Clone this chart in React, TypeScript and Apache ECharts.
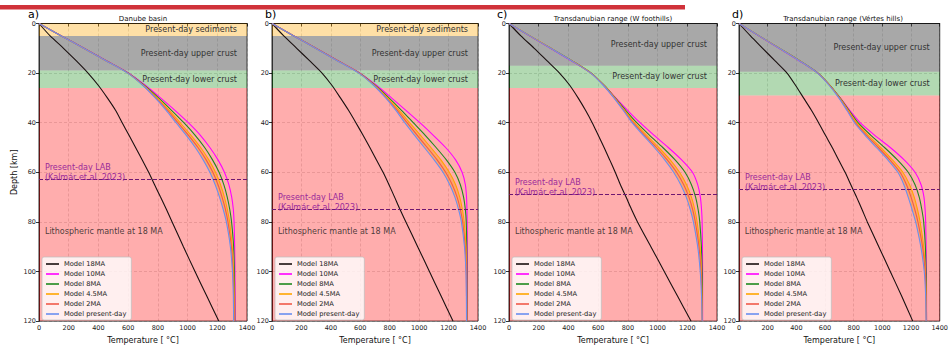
import React, { useEffect, useRef } from "react";
import * as echarts from "echarts";

// ---------- data ----------
const depthKm = [0, 5, 10, 15, 20, 25, 30, 35, 40, 45, 50, 55, 60, 65, 70, 75, 80, 90, 100, 110, 120];

const modelNames = ["Model 18MA", "Model 10MA", "Model 8MA", "Model 4.5MA", "Model 2MA", "Model present-day"];
const modelColors = ["#1a1010", "#ff00ff", "#1f8a1f", "#ffa500", "#f05a4a", "#6a8ff0"];

const tempTicks = [0, 200, 400, 600, 800, 1000, 1200, 1400];
const depthTicks = [0, 20, 40, 60, 80, 100, 120];

// Panel a) Danube basin
const aM18 = [0, 75, 165, 250, 330, 400, 460, 515, 560, 605, 650, 695, 738, 778, 818, 858, 896, 972, 1050, 1130, 1210];
const aM10 = [0, 152, 304, 455, 606, 718, 818, 915, 1005, 1085, 1150, 1205, 1248, 1278, 1297, 1308, 1313, 1317, 1319, 1320, 1320];
const aM8 = [0, 151, 302, 452, 602, 710, 805, 892, 975, 1050, 1115, 1168, 1212, 1244, 1267, 1284, 1296, 1310, 1315, 1317, 1318];
const aM45 = [0, 150, 300, 450, 599, 705, 795, 877, 950, 1022, 1088, 1143, 1188, 1222, 1248, 1268, 1283, 1301, 1310, 1314, 1315];
const aM2 = [0, 150, 300, 450, 598, 702, 788, 866, 935, 1005, 1070, 1125, 1170, 1205, 1232, 1255, 1272, 1295, 1306, 1311, 1313];
const aPD = [0, 150, 300, 450, 597, 700, 782, 856, 922, 990, 1052, 1105, 1150, 1186, 1215, 1240, 1261, 1288, 1302, 1308, 1310];

// Panel b)
const bM18 = [0, 80, 168, 255, 340, 408, 465, 520, 570, 618, 665, 710, 755, 795, 833, 870, 910, 990, 1070, 1150, 1230];
const bM10 = [0, 150, 300, 450, 600, 712, 812, 910, 1005, 1095, 1180, 1248, 1292, 1314, 1322, 1325, 1326, 1327, 1327, 1327, 1327];
const bM8 = [0, 149, 298, 447, 596, 703, 795, 880, 960, 1040, 1115, 1185, 1243, 1280, 1302, 1314, 1320, 1324, 1325, 1325, 1325];
const bM45 = [0, 149, 297, 446, 594, 698, 785, 864, 935, 1008, 1080, 1148, 1205, 1248, 1276, 1294, 1306, 1318, 1322, 1323, 1324];
const bM2 = [0, 148, 296, 444, 592, 695, 778, 852, 918, 986, 1055, 1122, 1180, 1225, 1258, 1280, 1296, 1313, 1320, 1322, 1323];
const bPD = [0, 148, 295, 443, 590, 692, 772, 842, 902, 968, 1035, 1102, 1162, 1208, 1243, 1268, 1287, 1308, 1318, 1321, 1322];

// Panel c) Transdanubian range (W foothills)
const cM18 = [0, 80, 170, 255, 340, 410, 465, 515, 560, 600, 640, 678, 715, 750, 788, 825, 865, 955, 1045, 1135, 1225];
const cM10 = [0, 138, 278, 418, 552, 640, 718, 798, 882, 975, 1072, 1162, 1235, 1270, 1288, 1296, 1300, 1302, 1303, 1303, 1303];
const cM8 = [0, 141, 283, 424, 554, 642, 715, 785, 860, 945, 1035, 1118, 1185, 1228, 1256, 1273, 1284, 1295, 1300, 1302, 1302];
const cM45 = [0, 141, 282, 422, 552, 640, 712, 778, 845, 925, 1008, 1085, 1148, 1195, 1228, 1250, 1266, 1286, 1295, 1299, 1301];
const cM2 = [0, 140, 281, 421, 551, 638, 709, 773, 836, 912, 992, 1065, 1128, 1176, 1211, 1236, 1254, 1279, 1292, 1298, 1300];
const cPD = [0, 140, 280, 420, 550, 636, 706, 768, 828, 902, 978, 1048, 1108, 1156, 1193, 1220, 1241, 1270, 1287, 1296, 1300];

// Panel d) Transdanubian range (Vértes hills)
const dM18 = [0, 80, 165, 250, 335, 395, 450, 505, 555, 602, 650, 695, 740, 780, 820, 858, 895, 975, 1055, 1135, 1212];
const dM10 = [0, 138, 278, 418, 550, 635, 706, 772, 845, 945, 1055, 1152, 1228, 1270, 1290, 1298, 1302, 1305, 1307, 1308, 1308];
const dM8 = [0, 141, 283, 424, 552, 636, 705, 767, 830, 918, 1015, 1105, 1180, 1228, 1257, 1275, 1288, 1300, 1305, 1307, 1308];
const dM45 = [0, 141, 282, 422, 550, 634, 702, 762, 820, 900, 988, 1070, 1143, 1190, 1222, 1245, 1263, 1288, 1300, 1305, 1307];
const dM2 = [0, 140, 281, 421, 549, 632, 699, 757, 812, 888, 972, 1052, 1123, 1168, 1200, 1226, 1248, 1280, 1298, 1304, 1306];
const dPD = [0, 140, 280, 420, 548, 630, 696, 752, 805, 878, 958, 1038, 1108, 1150, 1180, 1207, 1232, 1268, 1292, 1302, 1305];

// layer boundaries (km) per panel a,b,c,d
const sedimentBase = [5, 5, null, null];
const upperCrustBase = [19, 19, 17, 19.5];
const lowerCrustBase = [26, 26, 26, 29];
const labDepth = [63, 75, 69, 67];
const maxDepth = 120;

const panelLetters = ["a)", "b)", "c)", "d)"];
const panelTitles = ["Danube basin", "", "Transdanubian range (W foothills)", "Transdanubian range (Vértes hills)"];
const panelModels = [
  [aM18, aM10, aM8, aM45, aM2, aPD],
  [bM18, bM10, bM8, bM45, bM2, bPD],
  [cM18, cM10, cM8, cM45, cM2, cPD],
  [dM18, dM10, dM8, dM45, dM2, dPD],
];

// ---------- layout ----------
const gridLefts = [39, 272, 509, 739];
const gridWidths = [208, 206, 208, 208];
const gridTop = 23.5;
const gridHeight = 300;
const FONT = "DejaVu Sans";

function buildOption() {
  const grid: any[] = [];
  const xAxis: any[] = [];
  const yAxis: any[] = [];
  const series: any[] = [];
  const legend: any[] = [];
  const graphic: any[] = [];

  graphic.push({
    type: "rect",
    shape: { x: 0, y: 5, width: 685, height: 4.5 },
    style: { fill: "#d0323a" },
    silent: true,
  });

  const plain = (v: number) => String(v);

  for (let i = 0; i < 4; i++) {
    const left = gridLefts[i];
    const width = gridWidths[i];
    grid.push({
      left,
      top: gridTop,
      width,
      height: gridHeight,
      show: true,
      borderColor: "#000",
      borderWidth: 0.8,
      backgroundColor: "#fff",
    });
    xAxis.push({
      type: "value",
      gridIndex: i,
      min: tempTicks[0],
      max: tempTicks[tempTicks.length - 1],
      interval: 200,
      axisLine: { show: true, lineStyle: { color: "#000", width: 0.8 } },
      axisTick: { show: true, length: 3, lineStyle: { color: "#000", width: 0.8 } },
      axisLabel: { fontSize: 6.5, color: "#222", margin: 3, fontFamily: FONT, showMinLabel: true, showMaxLabel: true, formatter: plain },
      splitLine: { show: true, lineStyle: { color: "rgba(0,0,0,0.16)", type: [3, 2], width: 0.8 } },
      name: "Temperature [ °C]",
      nameLocation: "middle",
      nameGap: 14,
      nameTextStyle: { fontSize: 8, color: "#111", fontFamily: FONT },
    });
    yAxis.push({
      type: "value",
      gridIndex: i,
      inverse: true,
      min: depthTicks[0],
      max: depthTicks[depthTicks.length - 1],
      interval: 20,
      axisLine: { show: true, lineStyle: { color: "#000", width: 0.8 } },
      axisTick: { show: true, length: 3, lineStyle: { color: "#000", width: 0.8 } },
      axisLabel: { fontSize: 6.5, color: "#222", margin: 3, fontFamily: FONT, showMinLabel: true, showMaxLabel: true, formatter: plain },
      splitLine: { show: true, lineStyle: { color: "rgba(0,0,0,0.16)", type: [3, 2], width: 0.8 } },
      name: i === 0 ? "Depth [km]" : "",
      nameLocation: "middle",
      nameGap: 21,
      nameRotate: 90,
      nameTextStyle: { fontSize: 8, color: "#111", fontFamily: FONT },
    });

    // layer bands
    const bands: any[] = [];
    const bandLabel = (txt: string) => ({
      show: true,
      position: "insideRight",
      distance: 10,
      formatter: txt,
      fontSize: 8,
      color: "#333",
      fontFamily: FONT,
    });
    let top = 0;
    if (sedimentBase[i] != null) {
      bands.push([
        { coord: [0, 0], itemStyle: { color: "rgba(255,165,0,0.35)" }, label: bandLabel("Present-day sediments") },
        { coord: [1400, sedimentBase[i]] },
      ]);
      top = sedimentBase[i] as number;
    }
    bands.push([
      { coord: [0, top], itemStyle: { color: "rgba(70,70,70,0.47)" }, label: bandLabel("Present-day upper crust") },
      { coord: [1400, upperCrustBase[i]] },
    ]);
    bands.push([
      { coord: [0, upperCrustBase[i]], itemStyle: { color: "rgba(0,128,0,0.3)" }, label: bandLabel("Present-day lower crust") },
      { coord: [1400, lowerCrustBase[i]] },
    ]);
    bands.push([
      { coord: [0, lowerCrustBase[i]], itemStyle: { color: "rgba(255,0,0,0.32)" }, label: { show: false } },
      { coord: [1400, maxDepth] },
    ]);
    series.push({
      type: "line",
      name: "bands" + i,
      xAxisIndex: i,
      yAxisIndex: i,
      data: [[0, 0]],
      symbol: "none",
      lineStyle: { opacity: 0 },
      silent: true,
      z: 1,
      markArea: { silent: true, data: bands },
    });

    const models = panelModels[i];
    const pd = models[5];
    const o45 = models[3];
    // orange fill between present-day and 4.5 MA geotherms
    series.push({
      type: "custom",
      name: "fill" + i,
      xAxisIndex: i,
      yAxisIndex: i,
      data: [[0, 0]],
      silent: true,
      z: 2,
      renderItem: (_p: any, api: any) => {
        const pts: number[][] = [];
        for (let k = 0; k < depthKm.length; k++) pts.push(api.coord([pd[k], depthKm[k]]));
        for (let k = depthKm.length - 1; k >= 0; k--) pts.push(api.coord([o45[k], depthKm[k]]));
        return { type: "polygon", shape: { points: pts }, style: { fill: "rgba(255,160,40,0.5)" } };
      },
    });

    for (let m = 0; m < modelNames.length; m++) {
      const vals = models[m];
      series.push({
        type: "line",
        name: modelNames[m],
        xAxisIndex: i,
        yAxisIndex: i,
        data: depthKm.map((d, k) => [vals[k], d]),
        symbol: "none",
        showSymbol: false,
        smooth: 0.25,
        lineStyle: { color: modelColors[m], width: 1.1 },
        itemStyle: { color: modelColors[m] },
        z: 3,
      });
    }

    // LAB
    series.push({
      type: "line",
      name: "lab" + i,
      xAxisIndex: i,
      yAxisIndex: i,
      data: [],
      z: 5,
      markLine: {
        silent: true,
        symbol: ["none", "none"],
        lineStyle: { color: "#6e1670", type: [4, 2], width: 1.2 },
        label: {
          show: true,
          position: "insideStartTop",
          distance: [6, -3],
          formatter: "Present-day LAB\n(Kalmár et al. 2023)",
          color: "#9a2a9a",
          fontSize: 8,
          lineHeight: 10,
          fontFamily: FONT,
        },
        data: [{ yAxis: labDepth[i] }],
      },
    });

    // mantle label
    series.push({
      type: "scatter",
      name: "mantle" + i,
      xAxisIndex: i,
      yAxisIndex: i,
      data: [[40, 84]],
      symbolSize: 0,
      silent: true,
      z: 5,
      label: {
        show: true,
        position: "right",
        distance: 0,
        formatter: "Lithospheric mantle at 18 MA",
        fontSize: 8,
        color: "#1a1a1a",
        fontFamily: FONT,
      },
    });

    legend.push({
      data: modelNames,
      orient: "vertical",
      left: left + 3,
      top: 257,
      icon: "rect",
      itemWidth: 13,
      itemHeight: 1.6,
      itemGap: 2,
      padding: [3, 5, 2, 4],
      backgroundColor: "rgba(255,255,255,0.8)",
      borderColor: "rgba(190,190,190,0.9)",
      borderWidth: 0.8,
      borderRadius: 2,
      selectedMode: false,
      textStyle: { fontSize: 6.7, lineHeight: 8, color: "#222", fontFamily: FONT },
    });

    graphic.push({
      type: "text",
      left: left - (i === 0 ? 11 : i === 1 ? 7 : i === 2 ? 12 : 7),
      top: 9,
      style: { text: panelLetters[i], fontSize: 11, fill: "#000", fontFamily: FONT },
      silent: true,
    });
    if (panelTitles[i]) {
      graphic.push({
        type: "text",
        x: left + width / 2,
        y: 15,
        style: { text: panelTitles[i], fontSize: 7, fill: "#111", fontFamily: FONT, align: "center", verticalAlign: "top" },
        silent: true,
      });
    }
  }

  return {
    animation: false,
    backgroundColor: "#fff",
    textStyle: { fontFamily: FONT },
    grid,
    xAxis,
    yAxis,
    series,
    legend,
    graphic,
  };
}

export default function App() {
  const ref = useRef<HTMLDivElement>(null);
  useEffect(() => {
    document.body.style.margin = "0";
    if (!ref.current) return;
    const chart = echarts.init(ref.current, null, { renderer: "svg" });
    chart.setOption(buildOption());
    return () => chart.dispose();
  }, []);
  return <div ref={ref} style={{ width: 951, height: 349 }} />;
}
